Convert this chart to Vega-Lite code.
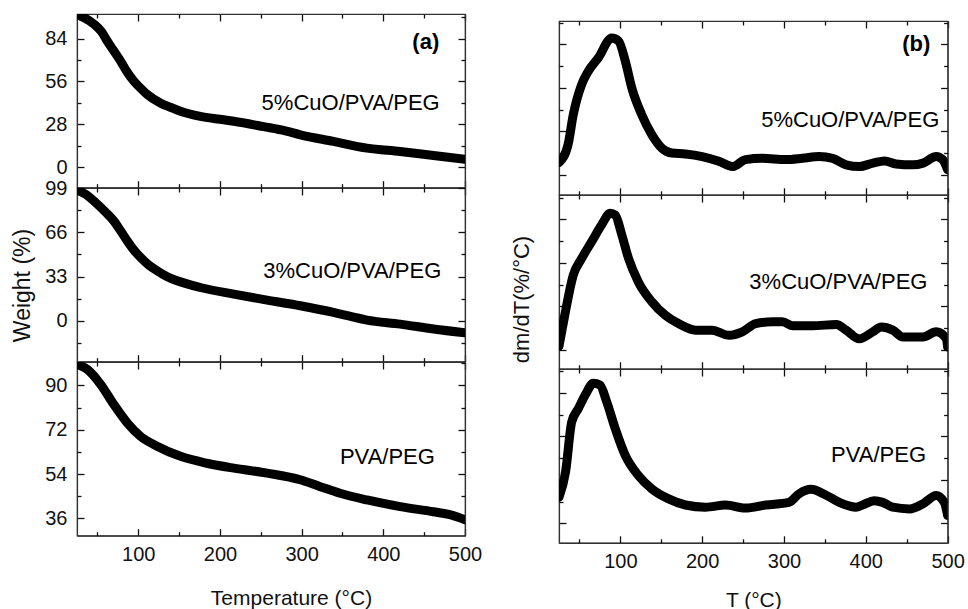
{
"$schema": "https://vega.github.io/schema/vega-lite/v6.json",
"padding": {"left": 10, "top": 6, "right": 0, "bottom": 0},
"config": {
 "font": "Liberation Sans",
 "view": {"stroke": "#333", "strokeWidth": 1.2},
 "axis": {"grid": false, "domainColor": "#333", "domainWidth": 1.2, "tickColor": "#111", "tickWidth": 1.3, "labelFont": "Liberation Sans", "labelFontSize": 20, "labelColor": "#111", "labelFlush": false, "labelOverlap": false, "labelBound": false, "titleFont": "Liberation Sans", "titleFontSize": 21, "titleFontWeight": "normal", "titleColor": "#111"},
 "text": {"font": "Liberation Sans", "fontSize": 22, "color": "#000"}
},
"datasets": {
 "a5": [{"T":25,"w":99.5},{"T":35,"w":97.2},{"T":45.7,"w":93.4},{"T":55,"w":88.5},{"T":62,"w":82.4},{"T":70,"w":76},{"T":78.4,"w":69.3},{"T":86,"w":62.5},{"T":94.6,"w":56.2},{"T":103,"w":51.5},{"T":111,"w":47.5},{"T":127,"w":42},{"T":140,"w":39},{"T":151.7,"w":36.5},{"T":176,"w":33.2},{"T":200,"w":31.3},{"T":216.9,"w":30},{"T":253.5,"w":26.5},{"T":280,"w":23.8},{"T":298.4,"w":21.2},{"T":339,"w":16.9},{"T":380,"w":12.5},{"T":420.7,"w":10.3},{"T":461.4,"w":7.7},{"T":500,"w":5.2}],
 "a3": [{"T":25,"w":97.5},{"T":35,"w":94.5},{"T":50,"w":86.9},{"T":60,"w":81},{"T":70,"w":74.5},{"T":78,"w":67.5},{"T":86.5,"w":59.6},{"T":95,"w":52.5},{"T":102.8,"w":47.2},{"T":112,"w":42},{"T":123,"w":37.3},{"T":135,"w":33},{"T":147.7,"w":29.8},{"T":176,"w":24.8},{"T":217,"w":19.9},{"T":257.7,"w":15.4},{"T":298.4,"w":11.2},{"T":339,"w":6.2},{"T":360,"w":3.2},{"T":380,"w":0.5},{"T":420.7,"w":-2.5},{"T":461.4,"w":-6.2},{"T":500,"w":-9}],
 "a0": [{"T":25,"w":98.5},{"T":37.6,"w":96.5},{"T":54,"w":90.4},{"T":70,"w":82.3},{"T":86.5,"w":74.8},{"T":102.8,"w":69.3},{"T":123,"w":65.3},{"T":151.7,"w":61.2},{"T":184,"w":58.4},{"T":217,"w":56.4},{"T":257.7,"w":54.4},{"T":298.4,"w":51.7},{"T":322.8,"w":48.9},{"T":347,"w":46.2},{"T":380,"w":43.5},{"T":420.7,"w":40.8},{"T":461.4,"w":38.7},{"T":480,"w":37.6},{"T":500,"w":35.5}],
 "b5": [{"T":25,"w":0.28},{"T":36,"w":0.69},{"T":42.5,"w":1.39},{"T":52.7,"w":2.08},{"T":61,"w":2.39},{"T":73,"w":2.69},{"T":89.5,"w":3.15},{"T":97.8,"w":3.08},{"T":106,"w":2.62},{"T":114,"w":2.0},{"T":126,"w":1.39},{"T":138.6,"w":0.92},{"T":151,"w":0.61},{"T":163,"w":0.5},{"T":179.6,"w":0.48},{"T":200,"w":0.42},{"T":220.5,"w":0.31},{"T":237,"w":0.19},{"T":253,"w":0.35},{"T":273.6,"w":0.38},{"T":302,"w":0.35},{"T":322.7,"w":0.38},{"T":343,"w":0.42},{"T":359.5,"w":0.38},{"T":376,"w":0.23},{"T":392,"w":0.19},{"T":408.5,"w":0.27},{"T":423,"w":0.32},{"T":437,"w":0.25},{"T":457.6,"w":0.23},{"T":470,"w":0.27},{"T":486,"w":0.42},{"T":494,"w":0.35},{"T":500,"w":0.12}],
 "b3": [{"T":25,"w":0.08},{"T":32,"w":0.79},{"T":42.5,"w":1.72},{"T":52.7,"w":2.1},{"T":65,"w":2.49},{"T":77,"w":2.87},{"T":87.6,"w":3.14},{"T":93.7,"w":3.1},{"T":101.8,"w":2.64},{"T":110,"w":2.1},{"T":122,"w":1.56},{"T":138.6,"w":1.1},{"T":155,"w":0.79},{"T":171,"w":0.6},{"T":192,"w":0.45},{"T":212,"w":0.45},{"T":232.7,"w":0.33},{"T":249,"w":0.41},{"T":265.5,"w":0.6},{"T":286,"w":0.64},{"T":298,"w":0.64},{"T":311,"w":0.55},{"T":335,"w":0.55},{"T":364,"w":0.58},{"T":376,"w":0.45},{"T":392,"w":0.25},{"T":408.5,"w":0.41},{"T":419,"w":0.52},{"T":433,"w":0.45},{"T":445.6,"w":0.29},{"T":470,"w":0.29},{"T":486,"w":0.41},{"T":498.6,"w":0.25},{"T":500,"w":0.06}],
 "b0": [{"T":25,"w":0.6},{"T":33,"w":1.18},{"T":40.5,"w":2.33},{"T":48.7,"w":2.64},{"T":57,"w":2.95},{"T":67,"w":3.22},{"T":75,"w":3.18},{"T":83.4,"w":2.79},{"T":93.7,"w":2.18},{"T":106,"w":1.56},{"T":122,"w":1.1},{"T":138.6,"w":0.79},{"T":159,"w":0.56},{"T":179.6,"w":0.42},{"T":204,"w":0.37},{"T":228.7,"w":0.42},{"T":253,"w":0.35},{"T":277.7,"w":0.42},{"T":306,"w":0.48},{"T":318.6,"w":0.68},{"T":333,"w":0.78},{"T":351,"w":0.65},{"T":367.6,"w":0.48},{"T":388,"w":0.37},{"T":396,"w":0.42},{"T":410.6,"w":0.52},{"T":420.8,"w":0.48},{"T":433,"w":0.37},{"T":453.6,"w":0.33},{"T":470,"w":0.45},{"T":486,"w":0.64},{"T":496,"w":0.48},{"T":500,"w":0.18}]
},
"spacing": 26,
"hconcat": [
 {"vconcat": [
  {"width": 388, "height": 173.67, "resolve": {"axis": {"x": "independent", "y": "independent"}},
   "layer": [
    {"data": {"name": "a5"}, "mark": {"type": "line", "color": "#000", "strokeWidth": 9, "strokeCap": "round", "strokeJoin": "round", "interpolate": "monotone", "clip": true},
     "encoding": {
      "x": {"field": "T", "type": "quantitative", "scale": {"domain": [25, 500], "nice": false, "zero": false}, "axis": {"orient": "bottom", "values": [100, 200, 300, 400, 500], "tickSize": -7, "labels": false, "title": null}},
      "y": {"field": "w", "type": "quantitative", "scale": {"domain": [-13.3, 100], "nice": false, "zero": false}, "axis": {"orient": "left", "values": [0, 28, 56, 84], "tickSize": -7, "labelPadding": 17, "title": null}}}},
    {"data": {"values": [{"label": "5%CuO/PVA/PEG"}]}, "mark": {"type": "text"},
     "encoding": {"text": {"field": "label"},
      "x": {"datum": 360, "type": "quantitative", "scale": {"domain": [25, 500], "nice": false, "zero": false}, "axis": {"orient": "top", "values": [100, 200, 300, 400, 500], "tickSize": -7, "labels": false, "title": null}},
      "y": {"datum": 42, "type": "quantitative", "scale": {"domain": [-13.3, 100], "nice": false, "zero": false}, "axis": {"orient": "right", "values": [0, 28, 56, 84], "tickSize": -7, "labels": false, "title": null}}}},
    {"data": {"values": [{"label": "(a)"}]}, "mark": {"type": "text", "fontWeight": "bold"},
     "encoding": {"text": {"field": "label"},
      "x": {"datum": 452, "type": "quantitative", "scale": {"domain": [25, 500], "nice": false, "zero": false}, "axis": null},
      "y": {"datum": 81.5, "type": "quantitative", "scale": {"domain": [-13.3, 100], "nice": false, "zero": false}, "axis": null}}},
    {"data": {"values": [{}]}, "mark": {"type": "text", "text": ""},
     "encoding": {
      "x": {"datum": 250, "type": "quantitative", "scale": {"domain": [25, 500], "nice": false, "zero": false}, "axis": {"orient": "bottom", "values": [50, 150, 250, 350, 450], "tickSize": -4, "labels": false, "domain": false, "title": null}},
      "y": {"datum": 0, "type": "quantitative", "scale": {"domain": [-13.3, 100], "nice": false, "zero": false}, "axis": {"orient": "left", "values": [14, 42, 70, 98], "tickSize": -4, "labels": false, "domain": false, "title": null}}}},
    {"data": {"values": [{}]}, "mark": {"type": "text", "text": ""},
     "encoding": {
      "x": {"datum": 250, "type": "quantitative", "scale": {"domain": [25, 500], "nice": false, "zero": false}, "axis": {"orient": "top", "values": [50, 150, 250, 350, 450], "tickSize": -4, "labels": false, "domain": false, "title": null}},
      "y": {"datum": 0, "type": "quantitative", "scale": {"domain": [-13.3, 100], "nice": false, "zero": false}, "axis": {"orient": "right", "values": [14, 42, 70, 98], "tickSize": -4, "labels": false, "domain": false, "title": null}}}}
   ]},
  {"width": 388, "height": 173.67, "resolve": {"axis": {"x": "independent", "y": "independent"}},
   "layer": [
    {"data": {"name": "a3"}, "mark": {"type": "line", "color": "#000", "strokeWidth": 9, "strokeCap": "round", "strokeJoin": "round", "interpolate": "monotone", "clip": true},
     "encoding": {
      "x": {"field": "T", "type": "quantitative", "scale": {"domain": [25, 500], "nice": false, "zero": false}, "axis": {"orient": "bottom", "values": [100, 200, 300, 400, 500], "tickSize": -7, "labels": false, "title": null}},
      "y": {"field": "w", "type": "quantitative", "scale": {"domain": [-30.5, 99], "nice": false, "zero": false}, "axis": {"orient": "left", "values": [0, 33, 66, 99], "tickSize": -7, "labelPadding": 17, "title": "Weight (%)", "titleFontSize": 23, "titleX": -55, "titleY": 97, "titleAngle": -90, "titleAlign": "center", "titleBaseline": "middle"}}}},
    {"data": {"values": [{"label": "3%CuO/PVA/PEG"}]}, "mark": {"type": "text"},
     "encoding": {"text": {"field": "label"},
      "x": {"datum": 362, "type": "quantitative", "scale": {"domain": [25, 500], "nice": false, "zero": false}, "axis": {"orient": "top", "values": [100, 200, 300, 400, 500], "tickSize": -7, "labels": false, "title": null}},
      "y": {"datum": 37.3, "type": "quantitative", "scale": {"domain": [-30.5, 99], "nice": false, "zero": false}, "axis": {"orient": "right", "values": [0, 33, 66, 99], "tickSize": -7, "labels": false, "title": null}}}},
    {"data": {"values": [{}]}, "mark": {"type": "text", "text": ""},
     "encoding": {
      "x": {"datum": 250, "type": "quantitative", "scale": {"domain": [25, 500], "nice": false, "zero": false}, "axis": {"orient": "bottom", "values": [50, 150, 250, 350, 450], "tickSize": -4, "labels": false, "domain": false, "title": null}},
      "y": {"datum": 0, "type": "quantitative", "scale": {"domain": [-30.5, 99], "nice": false, "zero": false}, "axis": {"orient": "left", "values": [-16.5, 16.5, 49.5, 82.5], "tickSize": -4, "labels": false, "domain": false, "title": null}}}},
    {"data": {"values": [{}]}, "mark": {"type": "text", "text": ""},
     "encoding": {
      "x": {"datum": 250, "type": "quantitative", "scale": {"domain": [25, 500], "nice": false, "zero": false}, "axis": {"orient": "top", "values": [50, 150, 250, 350, 450], "tickSize": -4, "labels": false, "domain": false, "title": null}},
      "y": {"datum": 0, "type": "quantitative", "scale": {"domain": [-30.5, 99], "nice": false, "zero": false}, "axis": {"orient": "right", "values": [-16.5, 16.5, 49.5, 82.5], "tickSize": -4, "labels": false, "domain": false, "title": null}}}}
   ]},
  {"width": 388, "height": 173.67, "resolve": {"axis": {"x": "independent", "y": "independent"}},
   "layer": [
    {"data": {"name": "a0"}, "mark": {"type": "line", "color": "#000", "strokeWidth": 9, "strokeCap": "round", "strokeJoin": "round", "interpolate": "monotone", "clip": true},
     "encoding": {
      "x": {"field": "T", "type": "quantitative", "scale": {"domain": [25, 500], "nice": false, "zero": false}, "axis": {"orient": "bottom", "values": [100, 200, 300, 400, 500], "tickSize": -7, "labelPadding": 16, "title": "Temperature (°C)", "titleX": 214, "titleY": 63, "titleAlign": "center", "titleBaseline": "middle"}},
      "y": {"field": "w", "type": "quantitative", "scale": {"domain": [29, 99.5], "nice": false, "zero": false}, "axis": {"orient": "left", "values": [36, 54, 72, 90], "tickSize": -7, "labelPadding": 17, "title": null}}}},
    {"data": {"values": [{"label": "PVA/PEG"}]}, "mark": {"type": "text"},
     "encoding": {"text": {"field": "label"},
      "x": {"datum": 405, "type": "quantitative", "scale": {"domain": [25, 500], "nice": false, "zero": false}, "axis": {"orient": "top", "values": [100, 200, 300, 400, 500], "tickSize": -7, "labels": false, "title": null}},
      "y": {"datum": 60.8, "type": "quantitative", "scale": {"domain": [29, 99.5], "nice": false, "zero": false}, "axis": {"orient": "right", "values": [36, 54, 72, 90], "tickSize": -7, "labels": false, "title": null}}}},
    {"data": {"values": [{}]}, "mark": {"type": "text", "text": ""},
     "encoding": {
      "x": {"datum": 250, "type": "quantitative", "scale": {"domain": [25, 500], "nice": false, "zero": false}, "axis": {"orient": "bottom", "values": [50, 150, 250, 350, 450], "tickSize": -4, "labels": false, "domain": false, "title": null}},
      "y": {"datum": 50, "type": "quantitative", "scale": {"domain": [29, 99.5], "nice": false, "zero": false}, "axis": {"orient": "left", "values": [45, 63, 81, 99], "tickSize": -4, "labels": false, "domain": false, "title": null}}}},
    {"data": {"values": [{}]}, "mark": {"type": "text", "text": ""},
     "encoding": {
      "x": {"datum": 250, "type": "quantitative", "scale": {"domain": [25, 500], "nice": false, "zero": false}, "axis": {"orient": "top", "values": [50, 150, 250, 350, 450], "tickSize": -4, "labels": false, "domain": false, "title": null}},
      "y": {"datum": 50, "type": "quantitative", "scale": {"domain": [29, 99.5], "nice": false, "zero": false}, "axis": {"orient": "right", "values": [45, 63, 81, 99], "tickSize": -4, "labels": false, "domain": false, "title": null}}}}
   ]}
 ], "spacing": 0, "bounds": "flush"},
 {"vconcat": [
  {"width": 388.6, "height": 6.3, "data": {"values": [{}]}, "mark": {"type": "text", "text": ""}, "encoding": {}, "view": {"stroke": null}},
  {"width": 388.6, "height": 173.8, "resolve": {"axis": {"x": "independent", "y": "independent"}},
   "layer": [
    {"data": {"name": "b5"}, "mark": {"type": "line", "color": "#000", "strokeWidth": 9, "strokeCap": "round", "strokeJoin": "round", "interpolate": "monotone", "clip": true},
     "encoding": {
      "x": {"field": "T", "type": "quantitative", "scale": {"domain": [25, 500], "nice": false, "zero": false}, "axis": {"orient": "bottom", "values": [100, 200, 300, 400, 500], "tickSize": -7, "labels": false, "title": null}},
      "y": {"field": "w", "type": "quantitative", "scale": {"domain": [-0.46, 3.54], "nice": false, "zero": false}, "axis": {"orient": "left", "values": [0, 1, 2, 3], "tickSize": -7, "labels": false, "title": null}}}},
    {"data": {"values": [{"label": "5%CuO/PVA/PEG"}]}, "mark": {"type": "text"},
     "encoding": {"text": {"field": "label"},
      "x": {"datum": 381, "type": "quantitative", "scale": {"domain": [25, 500], "nice": false, "zero": false}, "axis": {"orient": "top", "values": [100, 200, 300, 400, 500], "tickSize": -7, "labels": false, "title": null}},
      "y": {"datum": 1.27, "type": "quantitative", "scale": {"domain": [-0.46, 3.54], "nice": false, "zero": false}, "axis": {"orient": "right", "values": [0, 1, 2, 3], "tickSize": -7, "labels": false, "title": null}}}},
    {"data": {"values": [{"label": "(b)"}]}, "mark": {"type": "text", "fontWeight": "bold"},
     "encoding": {"text": {"field": "label"},
      "x": {"datum": 461.6, "type": "quantitative", "scale": {"domain": [25, 500], "nice": false, "zero": false}, "axis": null},
      "y": {"datum": 3.0, "type": "quantitative", "scale": {"domain": [-0.46, 3.54], "nice": false, "zero": false}, "axis": null}}},
    {"data": {"values": [{}]}, "mark": {"type": "text", "text": ""},
     "encoding": {
      "x": {"datum": 250, "type": "quantitative", "scale": {"domain": [25, 500], "nice": false, "zero": false}, "axis": {"orient": "bottom", "values": [50, 150, 250, 350, 450], "tickSize": -4, "labels": false, "domain": false, "title": null}},
      "y": {"datum": 1, "type": "quantitative", "scale": {"domain": [-0.46, 3.54], "nice": false, "zero": false}, "axis": {"orient": "left", "values": [0.5, 1.5, 2.5, 3.5], "tickSize": -4, "labels": false, "domain": false, "title": null}}}},
    {"data": {"values": [{}]}, "mark": {"type": "text", "text": ""},
     "encoding": {
      "x": {"datum": 250, "type": "quantitative", "scale": {"domain": [25, 500], "nice": false, "zero": false}, "axis": {"orient": "top", "values": [50, 150, 250, 350, 450], "tickSize": -4, "labels": false, "domain": false, "title": null}},
      "y": {"datum": 1, "type": "quantitative", "scale": {"domain": [-0.46, 3.54], "nice": false, "zero": false}, "axis": {"orient": "right", "values": [0.5, 1.5, 2.5, 3.5], "tickSize": -4, "labels": false, "domain": false, "title": null}}}}
   ]},
  {"width": 388.6, "height": 173.8, "resolve": {"axis": {"x": "independent", "y": "independent"}},
   "layer": [
    {"data": {"name": "b3"}, "mark": {"type": "line", "color": "#000", "strokeWidth": 9, "strokeCap": "round", "strokeJoin": "round", "interpolate": "monotone", "clip": true},
     "encoding": {
      "x": {"field": "T", "type": "quantitative", "scale": {"domain": [25, 500], "nice": false, "zero": false}, "axis": {"orient": "bottom", "values": [100, 200, 300, 400, 500], "tickSize": -7, "labels": false, "title": null}},
      "y": {"field": "w", "type": "quantitative", "scale": {"domain": [-0.44, 3.56], "nice": false, "zero": false}, "axis": {"orient": "left", "values": [0, 1, 2, 3], "tickSize": -7, "labels": false, "title": "dm/dT(%/°C)", "titleFontSize": 22, "titleX": -38, "titleY": 104, "titleAngle": -90, "titleAlign": "center", "titleBaseline": "middle"}}}},
    {"data": {"values": [{"label": "3%CuO/PVA/PEG"}]}, "mark": {"type": "text"},
     "encoding": {"text": {"field": "label"},
      "x": {"datum": 366.5, "type": "quantitative", "scale": {"domain": [25, 500], "nice": false, "zero": false}, "axis": {"orient": "top", "values": [100, 200, 300, 400, 500], "tickSize": -7, "labels": false, "title": null}},
      "y": {"datum": 1.56, "type": "quantitative", "scale": {"domain": [-0.44, 3.56], "nice": false, "zero": false}, "axis": {"orient": "right", "values": [0, 1, 2, 3], "tickSize": -7, "labels": false, "title": null}}}},
    {"data": {"values": [{}]}, "mark": {"type": "text", "text": ""},
     "encoding": {
      "x": {"datum": 250, "type": "quantitative", "scale": {"domain": [25, 500], "nice": false, "zero": false}, "axis": {"orient": "bottom", "values": [50, 150, 250, 350, 450], "tickSize": -4, "labels": false, "domain": false, "title": null}},
      "y": {"datum": 1, "type": "quantitative", "scale": {"domain": [-0.44, 3.56], "nice": false, "zero": false}, "axis": {"orient": "left", "values": [0.5, 1.5, 2.5, 3.5], "tickSize": -4, "labels": false, "domain": false, "title": null}}}},
    {"data": {"values": [{}]}, "mark": {"type": "text", "text": ""},
     "encoding": {
      "x": {"datum": 250, "type": "quantitative", "scale": {"domain": [25, 500], "nice": false, "zero": false}, "axis": {"orient": "top", "values": [50, 150, 250, 350, 450], "tickSize": -4, "labels": false, "domain": false, "title": null}},
      "y": {"datum": 1, "type": "quantitative", "scale": {"domain": [-0.44, 3.56], "nice": false, "zero": false}, "axis": {"orient": "right", "values": [0.5, 1.5, 2.5, 3.5], "tickSize": -4, "labels": false, "domain": false, "title": null}}}}
   ]},
  {"width": 388.6, "height": 173.8, "resolve": {"axis": {"x": "independent", "y": "independent"}},
   "layer": [
    {"data": {"name": "b0"}, "mark": {"type": "line", "color": "#000", "strokeWidth": 9, "strokeCap": "round", "strokeJoin": "round", "interpolate": "monotone", "clip": true},
     "encoding": {
      "x": {"field": "T", "type": "quantitative", "scale": {"domain": [25, 500], "nice": false, "zero": false}, "axis": {"orient": "bottom", "values": [100, 200, 300, 400, 500], "tickSize": -7, "labelPadding": 16, "title": "T (°C)", "titleX": 194.3, "titleY": 57.6, "titleAlign": "center", "titleBaseline": "middle"}},
      "y": {"field": "w", "type": "quantitative", "scale": {"domain": [-0.45, 3.55], "nice": false, "zero": false}, "axis": {"orient": "left", "values": [0, 1, 2, 3], "tickSize": -7, "labels": false, "title": null}}}},
    {"data": {"values": [{"label": "PVA/PEG"}]}, "mark": {"type": "text"},
     "encoding": {"text": {"field": "label"},
      "x": {"datum": 415.6, "type": "quantitative", "scale": {"domain": [25, 500], "nice": false, "zero": false}, "axis": {"orient": "top", "values": [100, 200, 300, 400, 500], "tickSize": -7, "labels": false, "title": null}},
      "y": {"datum": 1.58, "type": "quantitative", "scale": {"domain": [-0.45, 3.55], "nice": false, "zero": false}, "axis": {"orient": "right", "values": [0, 1, 2, 3], "tickSize": -7, "labels": false, "title": null}}}},
    {"data": {"values": [{}]}, "mark": {"type": "text", "text": ""},
     "encoding": {
      "x": {"datum": 250, "type": "quantitative", "scale": {"domain": [25, 500], "nice": false, "zero": false}, "axis": {"orient": "bottom", "values": [50, 150, 250, 350, 450], "tickSize": -4, "labels": false, "domain": false, "title": null}},
      "y": {"datum": 1, "type": "quantitative", "scale": {"domain": [-0.45, 3.55], "nice": false, "zero": false}, "axis": {"orient": "left", "values": [0.5, 1.5, 2.5, 3.5], "tickSize": -4, "labels": false, "domain": false, "title": null}}}},
    {"data": {"values": [{}]}, "mark": {"type": "text", "text": ""},
     "encoding": {
      "x": {"datum": 250, "type": "quantitative", "scale": {"domain": [25, 500], "nice": false, "zero": false}, "axis": {"orient": "top", "values": [50, 150, 250, 350, 450], "tickSize": -4, "labels": false, "domain": false, "title": null}},
      "y": {"datum": 1, "type": "quantitative", "scale": {"domain": [-0.45, 3.55], "nice": false, "zero": false}, "axis": {"orient": "right", "values": [0.5, 1.5, 2.5, 3.5], "tickSize": -4, "labels": false, "domain": false, "title": null}}}}
   ]}
 ], "spacing": 0, "bounds": "flush"}
]
}
